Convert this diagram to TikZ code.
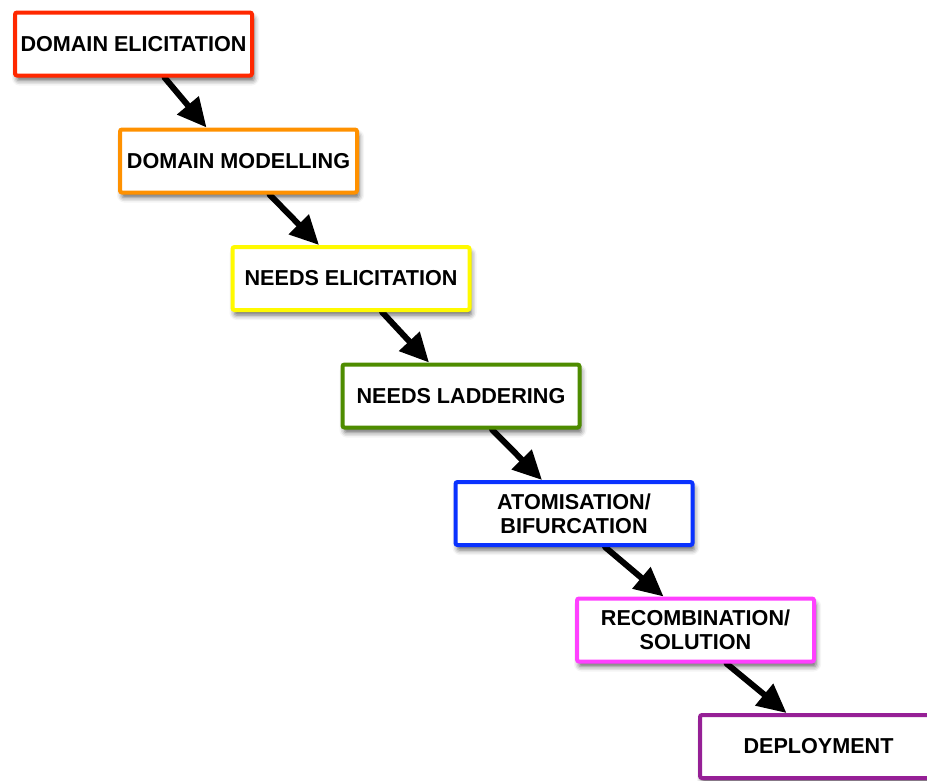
\documentclass[tikz,border=0pt]{standalone}
\usepackage{fontspec}
\setmainfont{Liberation Sans}
\usetikzlibrary{arrows.meta,shadows.blur,backgrounds}

\definecolor{stageRed}{RGB}{255,40,0}
\definecolor{stageOrange}{RGB}{255,145,0}
\definecolor{stageYellow}{RGB}{255,250,0}
\definecolor{stageGreen}{RGB}{78,140,0}
\definecolor{stageBlue}{RGB}{10,50,255}
\definecolor{stageMagenta}{RGB}{255,64,255}
\definecolor{stagePurple}{RGB}{150,32,150}

\begin{document}
\begin{tikzpicture}[x=1pt,y=-1pt,
  stagebox/.style={draw=#1, line width=4pt, fill=white, rounded corners=2pt,
    minimum width=237pt, minimum height=63pt, inner sep=0pt, align=center,
    font=\fontsize{21.6}{24}\selectfont\bfseries,
    blur shadow={shadow xshift=2pt, shadow yshift=-5pt,
      shadow blur radius=5pt, shadow opacity=60}},
  flow/.style={line width=6pt, line cap=round,
    -{Triangle[length=29pt,width=27pt]}}]
\useasboundingbox (0,0) rectangle (927,780);
\clip (0,0) rectangle (927,780);

% the seven stages, stepping down to the right
\node[stagebox=stageRed]     (s1) at (133.5,44)  {DOMAIN ELICITATION};
\node[stagebox=stageOrange]  (s2) at (238.5,161) {DOMAIN MODELLING};
\node[stagebox=stageYellow]  (s3) at (351,278.5) {NEEDS ELICITATION};
\node[stagebox=stageGreen]   (s4) at (461,396)   {NEEDS LADDERING};
\node[stagebox=stageBlue]    (s5) at (574,513.5) {ATOMISATION/\\BIFURCATION};
\node[stagebox=stageMagenta] (s6) at (695.5,630) {RECOMBINATION/\\SOLUTION};
\node[stagebox=stagePurple]  (s7) at (818.5,746.5) {DEPLOYMENT};

% arrows from each stage to the next, kept behind the boxes
\begin{scope}[on background layer]
  \foreach \a/\b in {s1/s2,s2/s3,s3/s4,s4/s5,s5/s6,s6/s7}
    \draw[flow] ([xshift=31pt]\a.south) -- ([xshift=-32pt]\b.north);
\end{scope}
\end{tikzpicture}
\end{document}
